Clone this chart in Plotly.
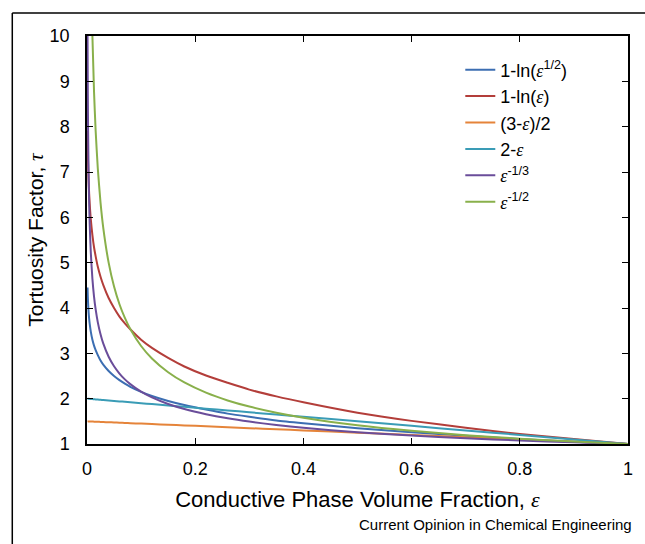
import plotly.graph_objects as go

# Conductive phase volume fraction (epsilon) sample points
eps = [0.001, 0.0015, 0.002, 0.003, 0.004, 0.005, 0.007, 0.01, 0.013, 0.016, 0.02,
       0.025, 0.03, 0.04, 0.05, 0.06, 0.07, 0.08, 0.1, 0.12, 0.15, 0.18, 0.22, 0.26,
       0.3, 0.35, 0.4, 0.5, 0.6, 0.7, 0.8, 0.9, 1.0]

tau_ln_sqrt = [4.45, 4.25, 4.11, 3.90, 3.76, 3.65, 3.48, 3.30, 3.17, 3.07, 2.96,
               2.84, 2.75, 2.61, 2.50, 2.41, 2.33, 2.26, 2.15, 2.06, 1.95, 1.86, 1.76, 1.67,
               1.60, 1.52, 1.46, 1.35, 1.26, 1.18, 1.11, 1.05, 1.00]
tau_ln = [7.91, 7.50, 7.21, 6.81, 6.52, 6.30, 5.96, 5.61, 5.34, 5.14, 4.91,
          4.69, 4.51, 4.22, 4.00, 3.81, 3.66, 3.53, 3.30, 3.12, 2.90, 2.71, 2.51, 2.35,
          2.20, 2.05, 1.92, 1.69, 1.51, 1.36, 1.22, 1.11, 1.00]
tau_half_lin = [1.4995, 1.4993, 1.499, 1.4985, 1.498, 1.4975, 1.4965, 1.495, 1.4935, 1.492, 1.49,
                1.4875, 1.485, 1.48, 1.475, 1.47, 1.465, 1.46, 1.45, 1.44, 1.425, 1.41, 1.39, 1.37,
                1.35, 1.325, 1.30, 1.25, 1.20, 1.15, 1.10, 1.05, 1.00]
tau_lin = [1.999, 1.9985, 1.998, 1.997, 1.996, 1.995, 1.993, 1.99, 1.987, 1.984, 1.98,
           1.975, 1.97, 1.96, 1.95, 1.94, 1.93, 1.92, 1.90, 1.88, 1.85, 1.82, 1.78, 1.74,
           1.70, 1.65, 1.60, 1.50, 1.40, 1.30, 1.20, 1.10, 1.00]
tau_cbrt = [10.0, 8.736, 7.937, 6.934, 6.300, 5.848, 5.228, 4.642, 4.253, 3.969, 3.684,
            3.420, 3.218, 2.924, 2.714, 2.554, 2.426, 2.321, 2.154, 2.027, 1.882, 1.771, 1.657, 1.567,
            1.494, 1.419, 1.357, 1.260, 1.186, 1.126, 1.077, 1.036, 1.00]
tau_sqrt = [None, None, None, None, None, None, None, 10.0, 8.771, 7.906, 7.071,
            6.325, 5.774, 5.0, 4.472, 4.082, 3.780, 3.536, 3.162, 2.887, 2.582, 2.357, 2.132, 1.961,
            1.826, 1.690, 1.581, 1.414, 1.291, 1.195, 1.118, 1.054, 1.00]

E = '<span style="font-family:Liberation Serif"><i>ε</i></span>'
names = [f"1-ln({E}<sup>1/2</sup>)", f"1-ln({E})", f"(3-{E})/2", f"2-{E}",
         f"{E}<sup>-1/3</sup>", f"{E}<sup>-1/2</sup>"]
series = [tau_ln_sqrt, tau_ln, tau_half_lin, tau_lin, tau_cbrt, tau_sqrt]
colors = ["#3C6EB2", "#B33E3A", "#E5843A", "#3A9CB6", "#6A4D9A", "#89B04B"]

x_ticks = [0, 0.2, 0.4, 0.6, 0.8, 1]
x_tick_labels = ["0", "0.2", "0.4", "0.6", "0.8", "1"]
y_ticks = list(range(1, 11))

fig = go.Figure()
for i, (nm, ys, c) in enumerate(zip(names, series, colors)):
    fig.add_trace(go.Scatter(x=eps, y=ys, mode="lines", name=nm,
                             line=dict(color=c, width=2, shape="spline", smoothing=0.6)))

FONT = "Liberation Sans, Arial, sans-serif"
fig.update_layout(
    width=645, height=544,
    margin=dict(l=87, r=15, t=36, b=100),
    paper_bgcolor="white", plot_bgcolor="white",
    font=dict(family=FONT, size=18, color="black"),
    showlegend=True,
    legend=dict(x=0.69, y=0.962, xanchor="left", yanchor="top",
                bgcolor="rgba(0,0,0,0)", font=dict(size=18)),
    xaxis=dict(range=[0, 1], tickvals=x_ticks, ticktext=x_tick_labels,
               ticks="inside", ticklen=6, tickwidth=1.2, tickcolor="black",
               showline=True, linecolor="black", linewidth=1.5, mirror="ticks",
               showgrid=False, zeroline=False, ticklabelstandoff=8,
               title=dict(text=f"Conductive Phase Volume Fraction, {E}", font=dict(size=22), standoff=13)),
    yaxis=dict(range=[1, 10], tickvals=y_ticks,
               ticks="inside", ticklen=6, tickwidth=1.2, tickcolor="black",
               showline=True, linecolor="black", linewidth=1.5, mirror="ticks",
               showgrid=False, zeroline=False, ticklabelstandoff=12,
               title=dict(text='Tortuosity Factor, <span style="font-family:Liberation Serif"><i>τ</i></span>',
                          font=dict(size=21), standoff=0)),
    shapes=[
        dict(type="line", xref="paper", yref="paper", x0=-0.1381, x1=-0.1381, y0=-0.26, y1=1.0564,
             line=dict(color="black", width=1.5)),
        dict(type="line", xref="paper", yref="paper", x0=-0.1381, x1=1.04, y0=1.0564, y1=1.0564,
             line=dict(color="black", width=1.5)),
    ],
    annotations=[
        dict(text="Current Opinion in Chemical Engineering", xref="paper", yref="paper",
             x=1.012, y=-0.197, xanchor="right", yanchor="middle", showarrow=False,
             font=dict(size=15, family=FONT)),
    ],
)

fig.write_html("out.html", config={"displayModeBar": False},
               post_script="document.body.style.margin='0';")
